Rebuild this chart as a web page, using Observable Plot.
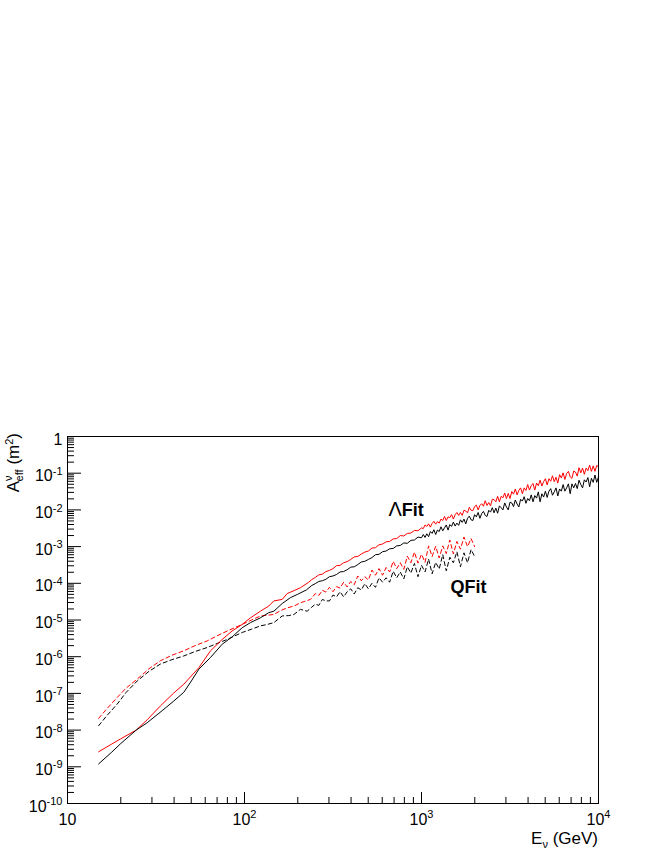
<!DOCTYPE html>
<html><head><meta charset="utf-8">
<script src="https://cdn.jsdelivr.net/npm/d3@7"></script>
<script src="https://cdn.jsdelivr.net/npm/@observablehq/plot@0.6"></script>
<style>html,body{margin:0;padding:0;background:#fff;} svg{display:block}</style>
</head><body><div id="chart"></div>
<script>
// ---------- DATA (log10 E [GeV], log10 A_eff [m^2]) ----------
// Lambda-Fit, black, smooth low-energy part
const lamBlackSmooth = [[1.176,-8.92],[1.25,-8.60],[1.30,-8.37],[1.388,-8.00],[1.45,-7.80],[1.535,-7.47],[1.60,-7.21],[1.657,-6.97],[1.70,-6.66],[1.742,-6.34],[1.808,-6.02],[1.874,-5.66],[1.930,-5.46],[1.987,-5.21],[2.034,-5.07],[2.090,-4.94],[2.137,-4.80],[2.166,-4.76],[2.213,-4.55],[2.260,-4.39],[2.30,-4.30],[2.35,-4.18],[2.38,-4.06]];
// Lambda-Fit, red, smooth low-energy part
const lamRedSmooth = [[1.176,-8.59],[1.25,-8.38],[1.30,-8.24],[1.388,-8.00],[1.45,-7.72],[1.525,-7.34],[1.60,-6.99],[1.657,-6.75],[1.742,-6.30],[1.808,-5.84],[1.874,-5.53],[1.930,-5.30],[1.987,-5.12],[2.034,-4.94],[2.090,-4.76],[2.137,-4.62],[2.166,-4.48],[2.213,-4.44],[2.241,-4.28],[2.28,-4.20],[2.316,-4.12],[2.36,-3.98],[2.38,-3.90]];
// Q-Fit, black (dashed), smooth part
const qBlackSmooth = [[1.176,-7.88],[1.22,-7.62],[1.281,-7.29],[1.33,-6.98],[1.394,-6.66],[1.46,-6.40],[1.525,-6.20],[1.59,-6.08],[1.657,-5.98],[1.72,-5.86],[1.789,-5.75],[1.85,-5.63],[1.902,-5.53],[1.987,-5.34],[2.040,-5.25],[2.090,-5.16],[2.130,-5.12],[2.166,-5.07],[2.213,-4.89],[2.250,-4.88],[2.279,-4.85],[2.316,-4.71],[2.354,-4.76],[2.38,-4.65]];
// Q-Fit, red (dashed), smooth part
const qRedSmooth = [[1.176,-7.68],[1.22,-7.43],[1.281,-7.11],[1.33,-6.86],[1.394,-6.61],[1.46,-6.33],[1.525,-6.11],[1.59,-5.96],[1.657,-5.84],[1.72,-5.70],[1.789,-5.57],[1.85,-5.42],[1.902,-5.30],[1.987,-5.12],[2.040,-5.00],[2.090,-4.89],[2.166,-4.85],[2.205,-4.74],[2.241,-4.67],[2.280,-4.62],[2.316,-4.53],[2.373,-4.44]];

// Noisy high-energy parts (bin positions, log10 E)
const lamGridLogE = [2.40,2.42,2.44,2.46,2.48,2.50,2.52,2.54,2.56,2.58,2.60,2.62,2.64,2.66,2.68,2.70,2.72,2.74,2.76,2.78,2.80,2.82,2.84,2.86,2.88,2.90,2.92,2.94,2.96,2.98,3.00,
3.01,3.02,3.03,3.04,3.05,3.06,3.07,3.08,3.09,3.10,3.11,3.12,3.13,3.14,3.15,3.16,3.17,3.18,3.19,3.20,
3.21,3.22,3.23,3.24,3.25,3.26,3.27,3.28,3.29,3.30,3.31,3.32,3.33,3.34,3.35,3.36,3.37,3.38,3.39,3.40,
3.41,3.42,3.43,3.44,3.45,3.46,3.47,3.48,3.49,3.50,3.51,3.52,3.53,3.54,3.55,3.56,3.57,3.58,3.59,3.60,
3.61,3.62,3.63,3.64,3.65,3.66,3.67,3.68,3.69,3.70,3.71,3.72,3.73,3.74,3.75,3.76,3.77,3.78,3.79,3.80,
3.81,3.82,3.83,3.84,3.85,3.86,3.87,3.88,3.89,3.90,3.91,3.92,3.93,3.94,3.95,3.96,3.97,3.98,3.99,4.00];
const lamBlackNoisy = [-4.01,-3.95,-3.93,-3.89,-3.82,-3.80,-3.76,-3.69,-3.68,-3.63,-3.56,-3.55,-3.49,-3.42,-3.40,-3.35,-3.30,-3.22,-3.21,-3.14,-3.12,-3.06,-3.05,-2.98,-2.97,-2.90,-2.91,-2.83,-2.82,-2.74,-2.76,
-2.67,-2.75,-2.65,-2.73,-2.59,-2.64,-2.54,-2.67,-2.55,-2.59,-2.46,-2.57,-2.49,-2.41,-2.55,-2.40,-2.45,-2.33,-2.44,-2.36,
-2.42,-2.27,-2.34,-2.25,-2.38,-2.23,-2.17,-2.27,-2.29,-2.13,-2.19,-2.07,-2.23,-2.10,-2.04,-2.15,-2.18,-2.01,-2.06,-1.94,
-2.08,-1.95,-2.09,-1.89,-1.94,-2.00,-1.81,-1.92,-2.00,-1.79,-1.81,-1.91,-1.73,-1.84,-1.92,-1.71,-1.76,-1.64,-1.82,-1.69,
-1.75,-1.59,-1.78,-1.61,-1.68,-1.51,-1.78,-1.56,-1.65,-1.49,-1.66,-1.49,-1.42,-1.60,-1.51,-1.40,-1.62,-1.43,-1.49,-1.31,
-1.49,-1.40,-1.29,-1.56,-1.29,-1.40,-1.28,-1.42,-1.19,-1.31,-1.40,-1.18,-1.24,-1.12,-1.37,-1.14,-1.25,-1.05,-1.25,-1.10];
const lamRedNoisy = [-3.84,-3.77,-3.75,-3.68,-3.65,-3.60,-3.52,-3.51,-3.44,-3.41,-3.35,-3.28,-3.27,-3.20,-3.15,-3.12,-3.04,-3.03,-2.95,-2.93,-2.87,-2.86,-2.79,-2.78,-2.70,-2.71,-2.64,-2.63,-2.56,-2.57,-2.49,
-2.51,-2.41,-2.45,-2.38,-2.47,-2.37,-2.31,-2.39,-2.32,-2.36,-2.25,-2.29,-2.18,-2.29,-2.19,-2.21,-2.13,-2.25,-2.13,-2.07,
-2.15,-2.07,-2.15,-2.01,-2.03,-2.08,-1.93,-2.01,-2.02,-1.91,-1.87,-2.00,-1.88,-1.83,-1.90,-1.75,-1.88,-1.80,-1.89,-1.71,
-1.72,-1.78,-1.63,-1.78,-1.63,-1.67,-1.54,-1.69,-1.55,-1.69,-1.50,-1.57,-1.43,-1.59,-1.47,-1.40,-1.56,-1.40,-1.47,-1.31,
-1.46,-1.34,-1.28,-1.46,-1.27,-1.34,-1.19,-1.35,-1.23,-1.15,-1.32,-1.15,-1.22,-1.07,-1.23,-1.11,-1.27,-1.04,-1.13,-0.99,
-1.17,-1.01,-0.95,-1.10,-1.14,-0.94,-0.97,-1.08,-0.85,-0.99,-0.86,-1.03,-0.86,-0.93,-0.78,-0.95,-0.80,-0.95,-0.79,-0.82];

const qGridLogE = [2.40,2.42,2.44,2.46,2.48,2.50,2.52,2.54,2.56,2.58,2.60,2.62,2.64,2.66,2.68,2.70,2.72,2.74,2.76,2.78,2.80,2.82,2.84,2.86,2.88,2.90,2.92,2.94,2.96,2.98,3.00,3.02,3.04,3.06,3.08,3.10,3.12,3.14,3.16,3.18,3.20,3.22,3.24,3.26,3.28,3.30];
const qBlackNoisy = [-4.57,-4.60,-4.44,-4.48,-4.48,-4.32,-4.37,-4.23,-4.37,-4.23,
-4.15,-4.29,-4.12,-4.18,-4.01,-4.15,-4.00,-4.11,-3.85,-3.97,
-3.85,-3.97,-3.67,-3.85,-3.69,-3.88,-3.55,-3.72,-3.46,-3.82,
-3.51,-3.69,-3.34,-3.74,-3.43,-3.61,-3.22,-3.66,-3.29,-3.44,
-3.14,-3.55,-3.17,-3.44,-3.08,-3.27];
const qRedNoisy = [-4.28,-4.33,-4.19,-4.24,-4.11,-4.23,-4.09,-4.13,-3.97,-4.10,
-3.95,-4.04,-3.80,-3.93,-3.82,-3.91,-3.64,-3.78,-3.60,-3.78,
-3.57,-3.69,-3.40,-3.60,-3.44,-3.62,-3.26,-3.44,-3.15,-3.45,
-3.21,-3.43,-2.98,-3.27,-2.99,-3.31,-2.98,-3.19,-2.82,-3.20,
-2.86,-3.07,-2.74,-3.00,-2.78,-3.00];

// Axis ticks / labels
const xMajor = [10, 100, 1000, 10000];
const xMinorMult = [2,3,4,5,6,7,8,9];
const xDecades = [1,2,3];
const yMajor = [1,1e-1,1e-2,1e-3,1e-4,1e-5,1e-6,1e-7,1e-8,1e-9,1e-10];
const yMinorMult = [2,3,4,5,6,7,8,9];
const yDecades = [-10,-9,-8,-7,-6,-5,-4,-3,-2,-1];

// In-plot labels
const labelText = ["ΛFit", "QFit"];
const labelE = [650, 1460];
const labelA = [6.8e-3, 5.4e-5];

// ---------- BUILD ----------
const W = 664, H = 860, mL = 67, mR = 66, mT = 436, mB = 57;
const plotW = W - mL - mR, plotH = H - mT - mB;
const fromPairs = p => p.map(([e, a]) => ({E: 10 ** e, A: 10 ** a}));
const fromGrid = (g, v) => g.map((e, i) => ({E: 10 ** e, A: 10 ** v[i]}));
const lamBlack = fromPairs(lamBlackSmooth).concat(fromGrid(lamGridLogE, lamBlackNoisy));
const lamRed = fromPairs(lamRedSmooth).concat(fromGrid(lamGridLogE, lamRedNoisy));
const qBlack = fromPairs(qBlackSmooth).concat(fromGrid(qGridLogE, qBlackNoisy));
const qRed = fromPairs(qRedSmooth).concat(fromGrid(qGridLogE, qRedNoisy));
const xMinor = xDecades.flatMap(k => xMinorMult.map(m => m * 10 ** (k)));
const yMinor = yDecades.flatMap(k => yMinorMult.map(m => m * 10 ** k));
const labels = labelText.map((t, i) => ({t, E: labelE[i], A: labelA[i]}));
const powFmt = base => d => {
  const k = Math.round(Math.log10(d));
  if (k === 0) return "1";
  if (k === 1 && base === "x") return "10";
  return "10^" + k;
};

const chart = Plot.plot({
  width: W, height: H,
  marginLeft: mL, marginRight: mR, marginTop: mT, marginBottom: mB,
  style: {fontFamily: "'Liberation Sans', Arial, Helvetica, sans-serif", fontSize: "16px", color: "black", background: "white"},
  x: {type: "log", domain: [10, 1e4]},
  y: {type: "log", domain: [1e-10, 1]},
  marks: [
    Plot.tickY(yMinor, {y: d => d, insetRight: plotW - 7, stroke: "black"}),
    Plot.tickY(yMajor, {y: d => d, insetRight: plotW - 14, stroke: "black"}),
    Plot.tickX(xMinor, {x: d => d, insetTop: plotH - 6, stroke: "black"}),
    Plot.tickX(xMajor, {x: d => d, insetTop: plotH - 11, stroke: "black"}),
    Plot.axisY(yMajor, {tickSize: 0, tickPadding: 5, dy: 3, tickFormat: powFmt("y"), label: null, fontSize: 16}),
    Plot.axisX(xMajor, {tickSize: 0, tickPadding: 10, tickFormat: powFmt("x"), label: null, fontSize: 16}),
    Plot.line(qRed, {x: "E", y: "A", stroke: "#ff0000", strokeWidth: 1, strokeDasharray: "4,3"}),
    Plot.line(qBlack, {x: "E", y: "A", stroke: "#000000", strokeWidth: 1, strokeDasharray: "4,3"}),
    Plot.line(lamRed, {x: "E", y: "A", stroke: "#ff0000", strokeWidth: 1}),
    Plot.line(lamBlack, {x: "E", y: "A", stroke: "#000000", strokeWidth: 1}),
    Plot.text(labels, {x: "E", y: "A", text: "t", textAnchor: "start", lineAnchor: "bottom", fontWeight: "bold", fontSize: 18, fill: "black"}),
    Plot.frame({stroke: "black", strokeWidth: 1})
  ]
});
document.getElementById("chart").appendChild(chart);

// ---------- TEXT FORMATTING (superscripts, symbols, axis titles) ----------
const ns = "http://www.w3.org/2000/svg";
d3.select(chart).selectAll("text").each(function () {
  const t = this.textContent;
  const m = t.match(/^(.*)\^(.*)$/);
  if (m) {
    this.textContent = "";
    const a = document.createElementNS(ns, "tspan"); a.textContent = m[1]; this.appendChild(a);
    const b = document.createElementNS(ns, "tspan"); b.textContent = m[2];
    b.setAttribute("font-size", "11"); b.setAttribute("dy", "-6.5"); this.appendChild(b);
  } else if (t === "ΛFit") {
    this.textContent = "";
    const a = document.createElementNS(ns, "tspan"); a.textContent = "Λ";
    a.setAttribute("font-weight", "normal"); a.setAttribute("font-size", "20"); this.appendChild(a);
    const b = document.createElementNS(ns, "tspan"); b.textContent = "Fit"; this.appendChild(b);
  }
});
const svg = d3.select(chart);
const yt = svg.append("text").attr("transform", "translate(19,433) rotate(-90)")
  .attr("text-anchor", "end").attr("font-size", 17).attr("fill", "black")
  .attr("font-family", "'Liberation Sans', Arial, Helvetica, sans-serif");
yt.append("tspan").text("A");
yt.append("tspan").attr("font-size", 11).attr("dy", -7).text("ν");
yt.append("tspan").attr("font-size", 11).attr("dx", -6).attr("dy", 11).text("eff");
yt.append("tspan").attr("dy", -4).text(" (m");
yt.append("tspan").attr("font-size", 11).attr("dy", -6).text("2");
yt.append("tspan").attr("dy", 6).text(")");
const xt = svg.append("text").attr("x", 598).attr("y", 844)
  .attr("text-anchor", "end").attr("font-size", 17).attr("fill", "black")
  .attr("font-family", "'Liberation Sans', Arial, Helvetica, sans-serif");
xt.append("tspan").text("E");
xt.append("tspan").attr("font-size", 11).attr("dy", 4).text("ν");
xt.append("tspan").attr("dy", -4).text(" (GeV)");
</script></body></html>
